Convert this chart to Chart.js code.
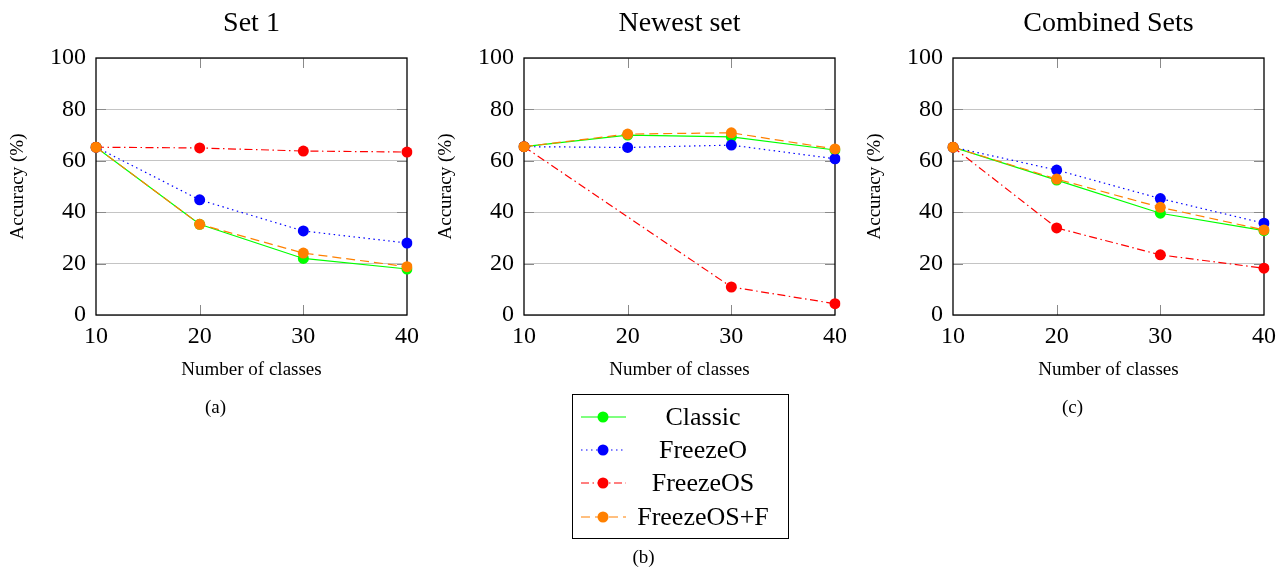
<!DOCTYPE html>
<html><head><meta charset="utf-8">
<script src="https://cdn.jsdelivr.net/npm/chart.js@4.4.1/dist/chart.umd.min.js"></script>
<style>
html,body{margin:0;padding:0;background:#fff;width:1288px;height:572px;overflow:hidden}
canvas{position:absolute;top:0}
</style></head><body>
<canvas id="c1" width="430" height="572" style="left:0px"></canvas>
<canvas id="c2" width="430" height="572" style="left:428px"></canvas>
<canvas id="c3" width="430" height="572" style="left:857px"></canvas>
<script>
const categories = ['10', '20', '30', '40'];
const yTicks = [0, 20, 40, 60, 80, 100];
const seriesNames = ['Classic', 'FreezeO', 'FreezeOS', 'FreezeOS+F'];
const titles = ['Set 1', 'Newest set', 'Combined Sets'];
const captions = ['(a)', '(b)', '(c)'];
const xAxisTitle = 'Number of classes';
const yAxisTitle = 'Accuracy (%)';

const set1Classic   = [65.3, 35.3, 22.0, 17.9];
const set1FreezeO   = [65.3, 44.8, 32.7, 28.0];
const set1FreezeOS  = [65.3, 65.0, 63.8, 63.4];
const set1FreezeOSF = [65.3, 35.3, 24.1, 18.8];

const newClassic    = [65.5, 70.0, 69.3, 64.2];
const newFreezeO    = [65.5, 65.2, 66.1, 60.8];
const newFreezeOS   = [65.5, null, 10.9, 4.4];
const newFreezeOSF  = [65.5, 70.4, 70.9, 64.6];

const combClassic   = [65.3, 52.5, 39.6, 32.8];
const combFreezeO   = [65.3, 56.4, 45.3, 35.7];
const combFreezeOS  = [65.3, 33.9, 23.4, 18.2];
const combFreezeOSF = [65.3, 52.9, 41.9, 33.1];

const SERIF = "'Liberation Serif', 'DejaVu Serif', serif";
const styles = [
  {color:'#00ff00', dash:[], order:4},
  {color:'#0000ff', dash:[1.5,3.5], order:3},
  {color:'#ff0000', dash:[8,3.5,1.5,3.5], order:2},
  {color:'#ff8000', dash:[9,5], order:1}
];

function makeDatasets(arrs){
  return arrs.map((d,i)=>({
    label: seriesNames[i], data: d,
    borderColor: styles[i].color, borderDash: styles[i].dash, borderWidth: 1.2,
    pointBackgroundColor: styles[i].color, pointBorderWidth: 0, pointRadius: 5.5,
    spanGaps: true, tension: 0, fill: false, order: styles[i].order
  }));
}

function decor(idx, withLegend){
  return {
    id: 'decor' + idx,
    beforeDatasetsDraw(chart){
      const {ctx, chartArea:a, scales:{x, y}} = chart;
      ctx.save();
      ctx.strokeStyle = '#8a8a8a'; ctx.lineWidth = 1;
      ctx.beginPath();
      for (let i = 1; i < categories.length - 1; i++){
        const px = Math.round(x.getPixelForValue(i)) + 0.5;
        ctx.moveTo(px, a.top); ctx.lineTo(px, a.top + 10);
        ctx.moveTo(px, a.bottom); ctx.lineTo(px, a.bottom - 10);
      }
      for (const v of yTicks.slice(1, -1)){
        const py = Math.round(y.getPixelForValue(v)) + 0.5;
        ctx.moveTo(a.left, py); ctx.lineTo(a.left + 10, py);
        ctx.moveTo(a.right, py); ctx.lineTo(a.right - 10, py);
      }
      ctx.stroke();
      ctx.strokeStyle = '#000'; ctx.lineWidth = 1.3;
      ctx.strokeRect(a.left, a.top, a.right - a.left, a.bottom - a.top);
      ctx.restore();
    },
    afterDraw(chart){
      const {ctx, chartArea:a} = chart;
      const cx = (a.left + a.right) / 2;
      ctx.save();
      ctx.fillStyle = '#000';
      ctx.textAlign = 'center'; ctx.textBaseline = 'middle';
      ctx.font = '28px ' + SERIF;
      ctx.fillText(titles[idx], cx, 24);
      ctx.font = '19px ' + SERIF;
      ctx.fillText(captions[idx], cx - 36, withLegend ? 558 : 408);
      if (withLegend){
        const bx = 144, by = 394, bw = 216, bh = 144;
        ctx.strokeStyle = '#000'; ctx.lineWidth = 1;
        ctx.strokeRect(bx + 0.5, by + 0.5, bw, bh);
        const rows = [417, 450, 483, 517];
        chart.data.datasets.forEach((ds, i) => {
          const ry = rows[i];
          ctx.save();
          ctx.strokeStyle = ds.borderColor; ctx.lineWidth = 1.2;
          ctx.setLineDash(ds.borderDash);
          ctx.beginPath(); ctx.moveTo(153, ry); ctx.lineTo(198, ry); ctx.stroke();
          ctx.setLineDash([]);
          ctx.fillStyle = ds.pointBackgroundColor;
          ctx.beginPath(); ctx.arc(175, ry, 5.5, 0, Math.PI * 2); ctx.fill();
          ctx.restore();
          ctx.fillStyle = '#000';
          ctx.font = '26px ' + SERIF;
          ctx.fillText(ds.label, 275, ry + 1);
        });
      }
      ctx.restore();
    }
  };
}

function makeChart(id, idx, arrs, withLegend){
  return new Chart(document.getElementById(id), {
    type: 'line',
    data: {labels: categories, datasets: makeDatasets(arrs)},
    options: {
      responsive: false, animation: false, events: [],
      layout: {padding: {top: 58, left: 0, right: 23, bottom: 191}},
      plugins: {legend: {display: false}, tooltip: {enabled: false}, title: {display: false}},
      scales: {
        x: {
          type: 'category', offset: false,
          grid: {display: false, drawTicks: false}, border: {display: false},
          ticks: {padding: 7, color: '#000', font: {family: SERIF, size: 24}, maxRotation: 0, autoSkip: false},
          title: {display: true, text: xAxisTitle, color: '#000', font: {family: SERIF, size: 19}, padding: 0},
          afterFit(s){ s.height = 66; }
        },
        y: {
          min: 0, max: 100,
          afterBuildTicks(s){ s.ticks = yTicks.map(v => ({value: v})); },
          grid: {color: '#c4c4c4', lineWidth: 1, drawTicks: false}, border: {display: false},
          ticks: {padding: 10, color: '#000', font: {family: SERIF, size: 24}},
          title: {display: true, text: yAxisTitle, color: '#000', font: {family: SERIF, size: 19}, padding: {top: 6.6, bottom: 0}},
          afterFit(s){ s.width = 96; }
        }
      }
    },
    plugins: [decor(idx, withLegend)]
  });
}

makeChart('c1', 0, [set1Classic, set1FreezeO, set1FreezeOS, set1FreezeOSF], false);
makeChart('c2', 1, [newClassic, newFreezeO, newFreezeOS, newFreezeOSF], true);
makeChart('c3', 2, [combClassic, combFreezeO, combFreezeOS, combFreezeOSF], false);
</script>
</body></html>
